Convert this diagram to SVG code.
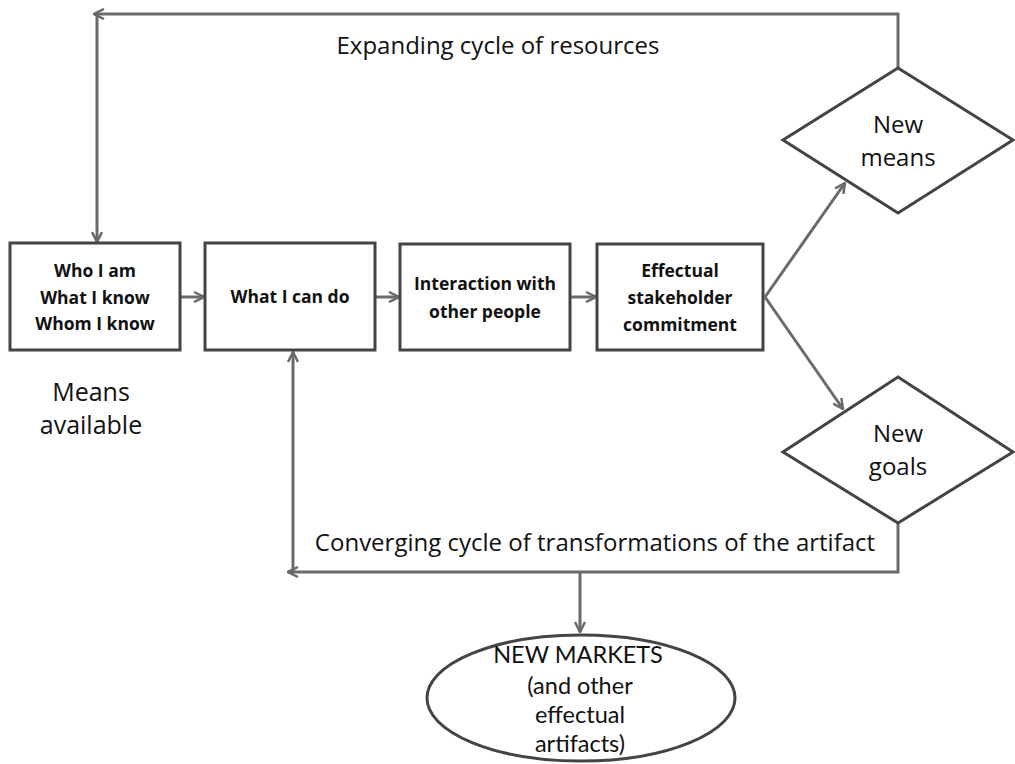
<svg xmlns="http://www.w3.org/2000/svg" width="1015" height="764" viewBox="0 0 1015 764">
<style>
.box{fill:#fff;stroke:#444;stroke-width:3}
.conn{fill:none;stroke:#6a6a6a;stroke-width:3}
.bt{font-family:"Open Sans","Liberation Sans",sans-serif;font-weight:bold;font-size:17.5px;fill:#111;text-anchor:middle}
.lt{font-family:"Open Sans","Liberation Sans",sans-serif;font-size:24px;fill:#111;text-anchor:middle}
.et{font-family:Lato,"Liberation Sans",sans-serif;font-size:23.5px;fill:#111;text-anchor:middle}
</style>
<defs>
<marker id="ah" viewBox="0 0 12 12" refX="11" refY="6" markerWidth="12" markerHeight="12" markerUnits="userSpaceOnUse" orient="auto">
<path d="M1,1 L11,6 L1,11" fill="none" stroke="#6a6a6a" stroke-width="2.5"/>
</marker>
</defs>
<rect width="1015" height="764" fill="#fff"/>
<g id="connectors">
<path class="conn" d="M898,68 V14 H94" marker-end="url(#ah)"/>
<path class="conn" d="M97,14 V242" marker-end="url(#ah)"/>
<path class="conn" d="M180,297 H204" marker-end="url(#ah)"/>
<path class="conn" d="M375,297 H399" marker-end="url(#ah)"/>
<path class="conn" d="M570,297 H596" marker-end="url(#ah)"/>
<path class="conn" d="M765,297 L845,183" marker-end="url(#ah)"/>
<path class="conn" d="M765,297 L843,409" marker-end="url(#ah)"/>
<path class="conn" d="M898,523 V572 H288" marker-end="url(#ah)"/>
<path class="conn" d="M293,572 V352" marker-end="url(#ah)"/>
<path class="conn" d="M580,572 V632" marker-end="url(#ah)"/>
</g>
<g id="label-expanding"><text class="lt" x="498" y="54">Expanding cycle of resources</text></g>
<g id="label-converging"><text class="lt" x="595" y="551">Converging cycle of transformations of the artifact</text></g>
<g id="node-who">
<rect class="box" x="10" y="243" width="170" height="107"/>
<text class="bt" x="95" y="277">Who I am</text>
<text class="bt" x="95" y="304">What I know</text>
<text class="bt" x="95" y="330">Whom I know</text>
</g>
<g id="label-means"><text class="lt" x="91" y="401" style="font-size:25px">Means</text><text class="lt" x="91" y="434" style="font-size:25px">available</text></g>
<g id="node-cando">
<rect class="box" x="205" y="243" width="170" height="107"/>
<text class="bt" x="290" y="303">What I can do</text>
</g>
<g id="node-interaction">
<rect class="box" x="400" y="244" width="170" height="106"/>
<text class="bt" x="485" y="290">Interaction with</text>
<text class="bt" x="485" y="318">other people</text>
</g>
<g id="node-commitment">
<rect class="box" x="597" y="244" width="166" height="106"/>
<text class="bt" x="680" y="277">Effectual</text>
<text class="bt" x="680" y="304">stakeholder</text>
<text class="bt" x="680" y="331">commitment</text>
</g>
<g id="node-newmeans">
<polygon class="box" points="898,68 1013,140 898,213 783,140"/>
<text class="lt" x="898" y="133">New</text>
<text class="lt" x="898" y="166">means</text>
</g>
<g id="node-newgoals">
<polygon class="box" points="898,377 1013,452 898,523 783,452"/>
<text class="lt" x="898" y="442">New</text>
<text class="lt" x="898" y="475">goals</text>
</g>
<g id="node-markets">
<ellipse class="box" cx="581" cy="698" rx="154" ry="63"/>
<text class="et" x="578" y="663">NEW MARKETS</text>
<text class="et" x="580" y="694">(and other</text>
<text class="et" x="580" y="723">effectual</text>
<text class="et" x="580" y="752">artifacts)</text>
</g>
</svg>
